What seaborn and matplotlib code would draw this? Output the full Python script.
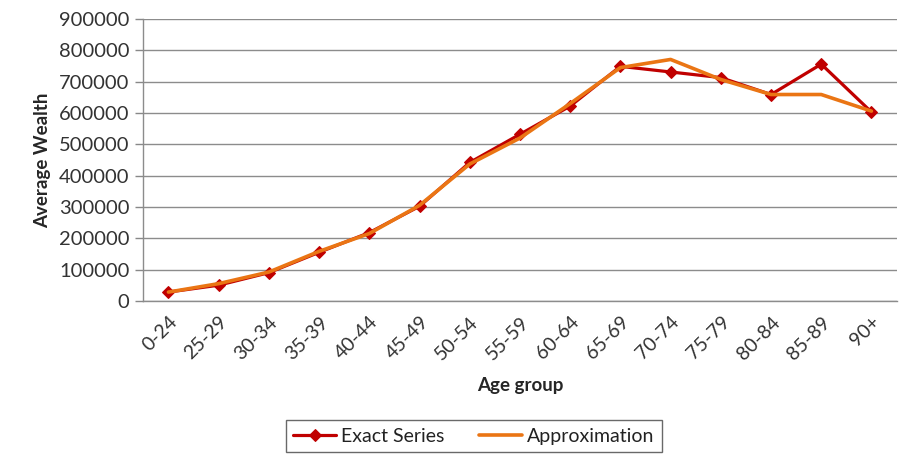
import pandas as pd
import matplotlib
matplotlib.use("Agg")
import matplotlib.pyplot as plt
import seaborn as sns

# data
age_groups = ['0-24', '25-29', '30-34', '35-39', '40-44', '45-49', '50-54', '55-59',
              '60-64', '65-69', '70-74', '75-79', '80-84', '85-89', '90+']
exact = [28000, 50000, 90000, 155000, 218000, 302000, 442000, 532000,
         622000, 749000, 731000, 713000, 659000, 756000, 603000]
approx = [28000, 55000, 92000, 158000, 215000, 305000, 437000, 520000,
          630000, 745000, 771000, 707000, 659000, 659000, 606000]

df = pd.DataFrame({'age': age_groups, 'Exact Series': exact, 'Approximation': approx})

sns.set_style('white')
plt.rcParams['font.family'] = ['Lato', 'DejaVu Sans']

fig = plt.figure(figsize=(9.13, 4.65), dpi=100)
ax = fig.add_axes([0.157, 0.353, 0.825, 0.606])

sns.lineplot(data=df, x='age', y='Exact Series', sort=False, ax=ax, color='#C00000',
             linewidth=2.3, marker='D', markersize=6.5, markeredgecolor='#C00000',
             label='Exact Series')
sns.lineplot(data=df, x='age', y='Approximation', sort=False, ax=ax, color='#EA7514',
             linewidth=2.6, label='Approximation')

ax.set_ylim(0, 900000)
ax.set_xlim(-0.5, len(age_groups) - 0.5)
ax.set_yticks(range(0, 900001, 100000))
ax.set_yticklabels([str(v) for v in range(0, 900001, 100000)], fontsize=14.5, color='#333333')
ax.set_xticks(range(len(age_groups)))
ax.set_xticklabels(age_groups, rotation=45, ha='right', rotation_mode='anchor', fontsize=14,
                   color='#333333')
ax.set_xticks([i - 0.5 for i in range(len(age_groups) + 1)], minor=True)
ax.tick_params(axis='x', which='major', length=0, pad=9)
ax.tick_params(axis='x', which='minor', length=6, color='#888888', width=1, direction='out')
ax.tick_params(axis='y', length=6, color='#888888', width=1, direction='out', left=True, pad=4)

ax.yaxis.grid(True, color='#8c8c8c', linewidth=1)
ax.set_axisbelow(True)
for s in ['top', 'right']:
    ax.spines[s].set_visible(False)
for s in ['left', 'bottom']:
    ax.spines[s].set_color('#8c8c8c')
    ax.spines[s].set_linewidth(1)

ax.set_xlabel('Age group', fontsize=13.5, fontweight='bold', labelpad=10)
ax.set_ylabel('Average Wealth', fontsize=13.5, fontweight='bold', labelpad=6)

leg = ax.legend(loc='center', bbox_to_anchor=(0.519, 0.062), bbox_transform=fig.transFigure,
                ncol=2, fontsize=14, frameon=True, fancybox=False, edgecolor='#444444',
                handlelength=2.2, columnspacing=1.8, borderpad=0.4, handletextpad=0.25)
leg.get_frame().set_linewidth(1)
for t in leg.get_texts():
    t.set_color('#222222')

fig.savefig('out.png', dpi=100)
